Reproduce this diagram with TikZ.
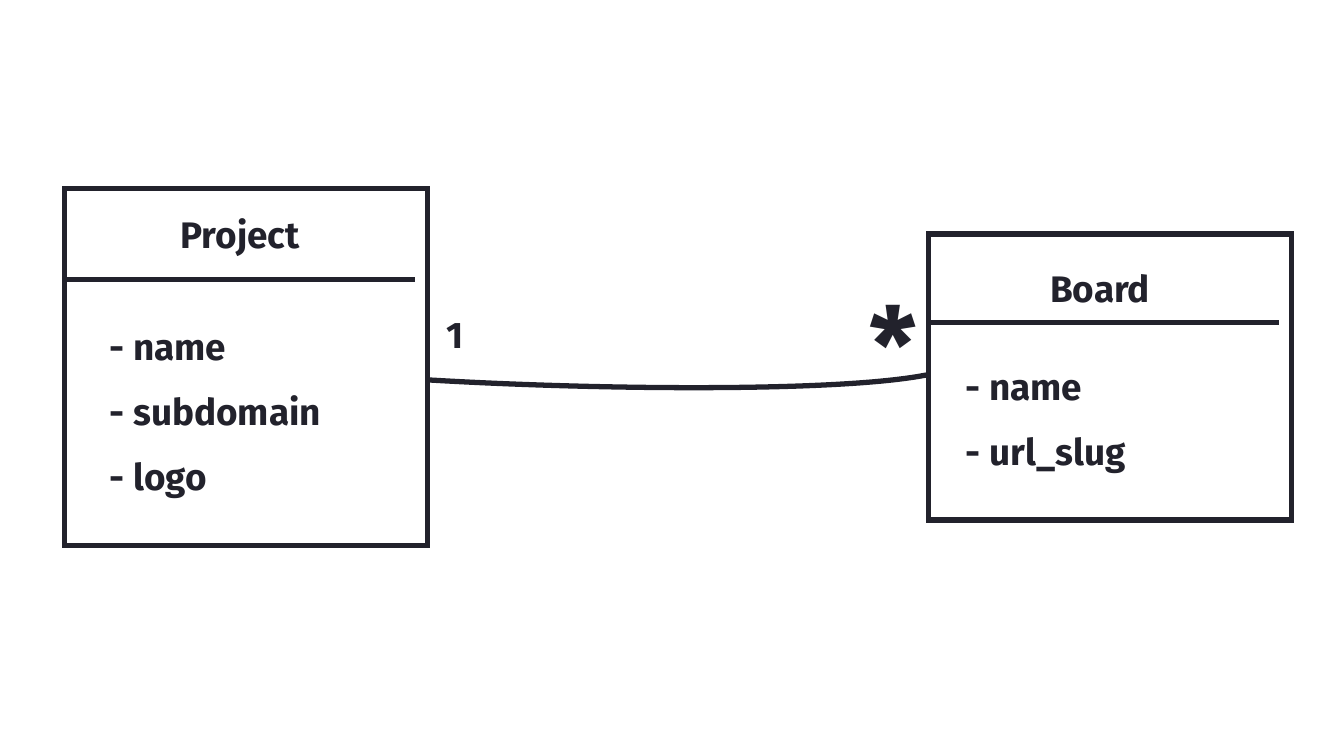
\documentclass[tikz,border=0pt]{standalone}
\usepackage{fontspec}
\setmainfont{Fira Sans}
\definecolor{ink}{RGB}{34,34,44}

\begin{document}
\begin{tikzpicture}[
    x=0.02cm, y=-0.02cm,
    font=\fontsize{21}{25}\selectfont\bfseries,
    line width=3pt,
    color=ink
]
\useasboundingbox (0,0) rectangle (1338,754);

% gemeinsame Breite
\def\w{7.25cm}

% linke Klasse
\node[draw=ink, minimum width=\w, minimum height=7.15cm] (project) at (246,367) {};
\draw ([yshift=-1.88cm]project.north west) -- ([xshift=-0.3cm,yshift=-1.88cm]project.north east);
\node[anchor=base] (projectTitle) at (240,248) {Project};
\node[anchor=base west] (projectName) at (101,360) {- name};
\node[anchor=base west] (projectSub) at (101,425) {- subdomain};
\node[anchor=base west] (projectLogo) at (101,490) {- logo};

% rechte Klasse
\node[draw=ink, minimum width=\w, minimum height=5.72cm] (board) at (1110,377) {};
\draw ([yshift=-1.82cm]board.north west) -- ([xshift=-0.3cm,yshift=-1.82cm]board.north east);
\node[anchor=base] (boardTitle) at (1100,302) {Board};
\node[anchor=base west] (boardName) at (957,400) {- name};
\node[anchor=base west] (boardSlug) at (957,465) {- url\_slug};

% Assoziation
\draw ([yshift=-0.26cm]project.east) .. controls (600,390) and (840,392) .. ([yshift=0.04cm]board.west);
\node (multOne) at (455,336) {1};
\node[font=\fontsize{60}{60}\selectfont\bfseries] (multMany) at (893,344) {*};

\end{tikzpicture}
\end{document}
